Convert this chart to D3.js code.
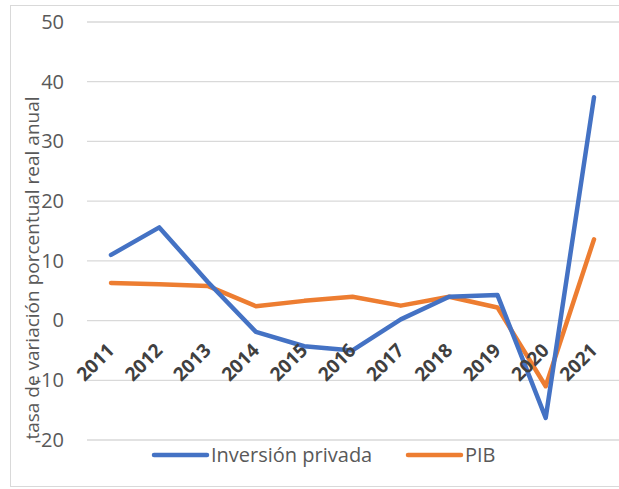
<!DOCTYPE html>
<html>
<head>
<meta charset="utf-8">
<script src="https://cdn.jsdelivr.net/npm/d3@7"></script>
<style>
  body { margin: 0; background: #fff; }
  text { font-family: "Open Sans", "Noto Sans", sans-serif; }
</style>
</head>
<body>
<script>
const years = ["2011", "2012", "2013", "2014", "2015", "2016", "2017", "2018", "2019", "2020", "2021"];
const inversion = [11.0, 15.6, 6.5, -1.9, -4.3, -5.0, 0.2, 4.0, 4.3, -16.3, 37.4];
const pib = [6.3, 6.1, 5.8, 2.4, 3.3, 4.0, 2.5, 4.0, 2.2, -11.0, 13.6];
const yTicks = [-20, -10, 0, 10, 20, 30, 40, 50];

const w = 619, h = 489;

let svg = d3.select("body").append("svg")
  .attr("width", w)
  .attr("height", h);

// borde
svg.append("rect")
  .attr("x", 10.5).attr("y", 5.5)
  .attr("width", 640).attr("height", 481)
  .attr("fill", "none")
  .attr("stroke", "#d9d9d9");

const x = d3.scalePoint().domain(years).range([111, 594]);
const y = d3.scaleLinear().domain([-20, 50]).range([440, 22]);

// grid
svg.append("g")
  .selectAll("line")
  .data(yTicks)
  .enter()
  .append("line")
  .attr("x1", 87).attr("x2", 619)
  .attr("y1", d => y(d)).attr("y2", d => y(d))
  .attr("stroke", "#d9d9d9")
  .attr("stroke-width", 1.3);

let yAxis = d3.axisLeft(y).tickValues(yTicks).tickFormat(d => String(d)).tickSize(0).tickPadding(0);
let gy = svg.append("g").attr("transform", "translate(64,0)").call(yAxis);
gy.select(".domain").remove();
gy.selectAll("text")
  .attr("fill", "#595959")
  .style("font-size", "20px")
  .style("font-family", "Open Sans, sans-serif");

// titulo eje y
svg.append("text")
  .attr("transform", "translate(39,268) rotate(-90)")
  .attr("text-anchor", "middle")
  .attr("fill", "#595959")
  .style("font-size", "19px")
  .text("tasa de variación porcentual real anual");

// lineas
const line = d3.line().x((d, i) => x(years[i])).y(d => y(d));
svg.append("path").datum(pib)
  .attr("fill", "none").attr("stroke", "#ED7D31")
  .attr("stroke-width", 4.5).attr("stroke-linejoin", "round").attr("stroke-linecap", "round")
  .attr("d", line);
svg.append("path").datum(inversion)
  .attr("fill", "none").attr("stroke", "#4472C4")
  .attr("stroke-width", 4.5).attr("stroke-linejoin", "round").attr("stroke-linecap", "round")
  .attr("d", line);

// etiquetas eje x
let xAxis = d3.axisBottom(x).tickSize(0).tickPadding(0);
let gx = svg.append("g").attr("transform", "translate(0," + y(0) + ")").call(xAxis);
gx.select(".domain").remove();
gx.selectAll("text")
  .attr("text-anchor", "end")
  .attr("dy", 0)
  .attr("y", 0)
  .attr("transform", "translate(4,31) rotate(-45)")
  .attr("fill", "#404040")
  .style("font-size", "19px")
  .style("font-weight", "bold")
  .style("font-family", "Open Sans, sans-serif");

// leyenda
const series = [
  { name: "Inversión privada", color: "#4472C4", x: 154 },
  { name: "PIB", color: "#ED7D31", x: 408 }
];
let lg = svg.append("g").selectAll("g").data(series).enter().append("g")
  .attr("transform", d => "translate(" + d.x + ",455)");
lg.append("line")
  .attr("x1", 0).attr("x2", 53)
  .attr("stroke", d => d.color).attr("stroke-width", 4.5).attr("stroke-linecap", "round");
lg.append("text")
  .attr("x", 57).attr("y", 7)
  .attr("fill", "#595959")
  .style("font-size", "20px")
  .text(d => d.name);
</script>
</body>
</html>
